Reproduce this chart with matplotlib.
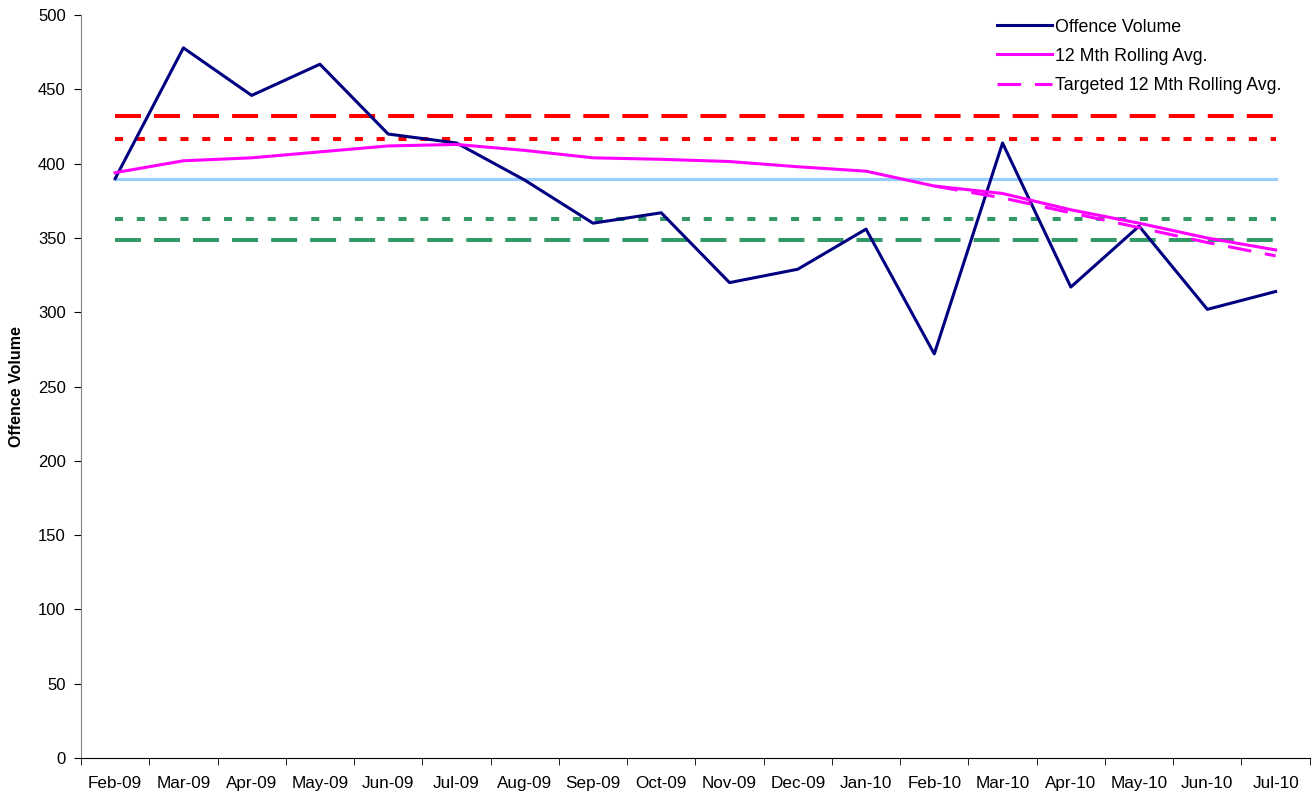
import numpy as np
import matplotlib
matplotlib.use("Agg")
import matplotlib.pyplot as plt

plt.rcParams["font.family"] = ["Liberation Sans", "DejaVu Sans"]
plt.rcParams["lines.scale_dashes"] = False

# -------------------- data --------------------
months = ["Feb-09", "Mar-09", "Apr-09", "May-09", "Jun-09", "Jul-09", "Aug-09", "Sep-09", "Oct-09",
          "Nov-09", "Dec-09", "Jan-10", "Feb-10", "Mar-10", "Apr-10", "May-10", "Jun-10", "Jul-10"]
offence_volume = [390, 478, 446, 467, 420, 414, 389, 360, 367, 320, 329, 356, 272, 414, 317, 358, 302, 314]
rolling_avg = [394, 402, 404, 408, 412, 413, 409, 404, 403, 401.5, 398, 395, 385, 380, 369, 360, 350, 342]
targeted_months = ["Feb-10", "Mar-10", "Apr-10", "May-10", "Jun-10", "Jul-10"]
targeted_avg = [385, 377, 367, 357, 347, 338]

upper_outer = 432   # red dashed
upper_inner = 417   # red dotted
baseline = 390      # light blue
lower_inner = 363   # green dotted
lower_outer = 349   # green dashed

# -------------------- plot --------------------
x = np.arange(len(months))
xt = np.array([months.index(m) for m in targeted_months])

fig = plt.figure(figsize=(13.15, 8), dpi=100)
ax = fig.add_axes([0.0616, 0.0525, 0.9344, 0.9285])

dash_long = (0, (18.7, 9.4))
dot_short = (0, (5.8, 9.9))

ax.plot(x, [upper_outer] * len(x), color="#FF0000", lw=2.9, linestyle=dash_long)
ax.plot(x, [upper_inner] * len(x), color="#FF0000", lw=2.9, linestyle=dot_short)
ax.plot(x, [baseline] * len(x), color="#99CCFF", lw=2.3)
ax.plot(x, [lower_inner] * len(x), color="#339966", lw=2.9, linestyle=dot_short)
ax.plot(x, [lower_outer] * len(x), color="#339966", lw=2.9, linestyle=dash_long)

l1, = ax.plot(x, offence_volume, color="#000080", lw=2.2, label="Offence Volume")
l2, = ax.plot(x, rolling_avg, color="#FF00FF", lw=2.2, label="12 Mth Rolling Avg.")
l3, = ax.plot(xt, targeted_avg, color="#FF00FF", lw=2.2, linestyle=(0, (17, 10)),
              label="Targeted 12 Mth Rolling Avg.")

ax.set_xlim(-0.5, len(months) - 0.5)
ax.set_ylim(0, 500)
ax.set_yticks(np.arange(0, 501, 50))
ax.set_xticks(x)
ax.set_xticklabels(months)
ax.set_xticks(np.arange(-0.5, len(months), 1), minor=True)
ax.tick_params(axis="x", which="major", length=0, pad=13, labelsize=12.3)
ax.tick_params(axis="x", which="minor", length=5, direction="out", color="#000000")
ax.tick_params(axis="y", length=5, direction="out", labelsize=12, pad=6)

for s in ["top", "right"]:
    ax.spines[s].set_visible(False)
ax.spines["left"].set_color("#808080")
ax.spines["bottom"].set_color("#000000")

ax.set_ylabel("Offence Volume", fontsize=11.5, fontweight="bold", labelpad=10)

ax.legend(handles=[l1, l2, l3], loc="upper right", bbox_to_anchor=(0.99, 1.017), frameon=False,
          fontsize=12.8, handlelength=3.1, handletextpad=0.15, labelspacing=0.68)

fig.savefig("out.png", dpi=100)
